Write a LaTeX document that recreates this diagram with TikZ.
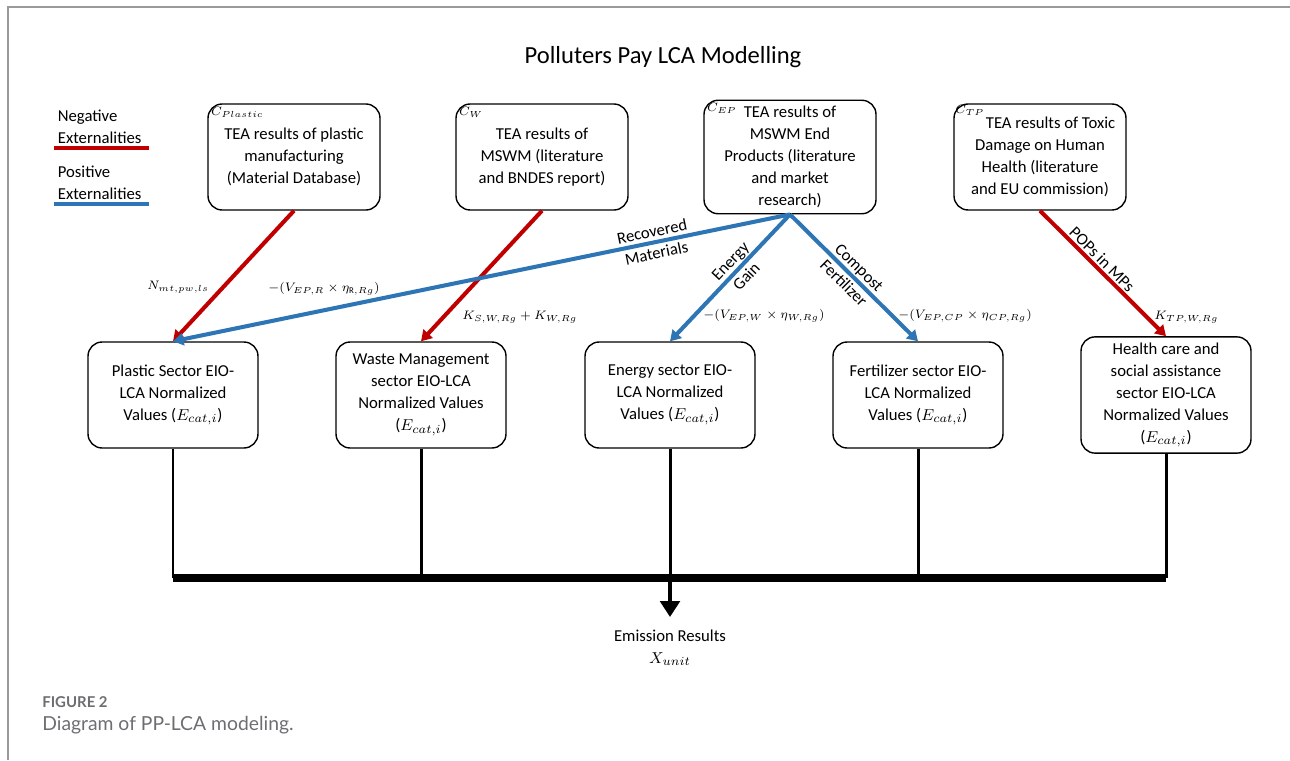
\documentclass[tikz,border=0pt]{standalone}
\usepackage{fontspec}
\setmainfont{Carlito}
\newfontfamily\capfont{Lato}
\usetikzlibrary{arrows.meta}
\definecolor{negred}{HTML}{C00000}
\definecolor{posblue}{HTML}{2E75B6}
\definecolor{capgray}{HTML}{6D6E71}
\tikzset{>={Triangle[length=6pt,width=7pt]}}
\tikzset{
  box/.style={draw, line width=0.8pt, rounded corners=8pt, align=center,
    minimum width=3.44cm, minimum height=2.12cm,
    font=\fontsize{9.5}{12.5}\selectfont},
  eio/.style={box, minimum width=3.4cm},
  clbl/.style={anchor=north west, inner sep=2pt, font=\scriptsize},
  lbl/.style={align=center, inner sep=1pt, font=\fontsize{9.5}{12.5}\selectfont},
  mlbl/.style={anchor=west, inner sep=0pt, font=\scriptsize},
  negarrow/.style={draw=negred, line width=2.3pt, ->},
  posarrow/.style={draw=posblue, line width=2.3pt, ->},
  feed/.style={line width=1.7pt}
}

\begin{document}
\begin{tikzpicture}[x=0.02cm, y=-0.02cm]
  \useasboundingbox (0,0) rectangle (1290,760);
  \draw[capgray!70, line width=1.2pt] (8,760) -- (8,7) -- (1290,7);

  \node[font=\fontsize{14}{17}\selectfont] (title) at (663,57)
    {Polluters Pay LCA Modelling};

  % legend
  \node[lbl, anchor=west, align=left, inner sep=2pt] (legneg) at (54,127)
    {Negative\\Externalities};
  \draw[negred, line width=2.3pt] (legneg.south west) -- ++(95,0);
  \node[lbl, anchor=west, align=left, inner sep=2pt] (legpos) at (54,183)
    {Positive\\Externalities};
  \draw[posblue, line width=2.3pt] (legpos.south west) -- ++(95,0);

  % TEA boxes
  \node[box] (teaplastic) at (294,157)
    {TEA results of plastic\\manufacturing\\(Material Database)};
  \node[box] (teawaste) at (542,157)
    {TEA results of\\MSWM (literature\\and BNDES report)};
  \node[box] (teaend) at (790,157)
    {TEA results of\\MSWM End\\Products (literature\\and market\\research)};
  \node[box] (teatoxic) at (1040,157)
    {\hspace{12pt}TEA results of Toxic\\Damage on Human\\Health (literature\\and EU commission)};
  \node[clbl] (cplastic) at (teaplastic.north west) {$C_{Plastic}$};
  \node[clbl] (cwaste) at (teawaste.north west) {$C_{W}$};
  \node[clbl] (cend) at (teaend.north west) {$C_{EP}$};
  \node[clbl, inner sep=1pt] (ctoxic) at (teatoxic.north west) {$C_{TP}$};

  % EIO-LCA boxes
  \node[eio] (eioplastic) at (173,395)
    {Plastic Sector EIO-\\LCA Normalized\\Values ($E_{cat,i}$)};
  \node[eio] (eiowaste) at (421,395)
    {Waste Management\\sector EIO-LCA\\Normalized Values\\($E_{cat,i}$)};
  \node[eio] (eioenergy) at (670,395)
    {Energy sector EIO-\\LCA Normalized\\Values ($E_{cat,i}$)};
  \node[eio] (eiofert) at (918,395)
    {Fertilizer sector EIO-\\LCA Normalized\\Values ($E_{cat,i}$)};
  \node[eio] (eiohealth) at (1166,395)
    {Health care and\\social assistance\\sector EIO-LCA\\Normalized Values\\($E_{cat,i}$)};

  % externalities
  \draw[negarrow] (teaplastic.south) -- (eioplastic.north);
  \draw[negarrow] (teawaste.south) -- (eiowaste.north);
  \draw[posarrow] (teaend.south) -- node[lbl, sloped, pos=0.22] {Recovered\\Materials}
    (eioplastic.north);
  \draw[posarrow] (teaend.south) -- node[lbl, sloped, pos=0.43] {Energy\\Gain}
    (eioenergy.north);
  \draw[posarrow] (teaend.south) -- node[lbl, sloped, pos=0.48] {Compost\\Fertilizer}
    (eiofert.north);
  \draw[negarrow] (teatoxic.south) -- node[lbl, sloped, above, pos=0.44] {POPs in MPs}
    (eiohealth.north);

  \node[mlbl] (nmt) at (147,287) {$N_{mt,pw,ls}$};
  \node[mlbl] (vepr) at (268,289) {$-(V_{EP,R}\times\eta_{\mathrm{R},Rg})$};
  \node[mlbl] (ksw) at (462,317) {$K_{S,W,Rg}+K_{W,Rg}$};
  \node[mlbl] (vepw) at (703,316) {$-(V_{EP,W}\times\eta_{W,Rg})$};
  \node[mlbl] (vepcp) at (898,316) {$-(V_{EP,CP}\times\eta_{CP,Rg})$};
  \node[mlbl] (ktp) at (1154,317) {$K_{TP,W,Rg}$};

  % summation
  \coordinate (bus) at (670,578);
  \foreach \n in {eioplastic,eiowaste,eioenergy,eiofert,eiohealth}
    \draw[feed] (\n.south) -- (\n.south |- bus);
  \draw[line width=4pt] (eioplastic.south |- bus) -- (eiohealth.south |- bus);
  \node[lbl, anchor=north, inner ysep=7pt] (result) at (670,617)
    {Emission Results\\$X_{unit}$};
  \draw[line width=2.3pt, -{Triangle[length=9pt,width=11pt]}] (bus) -- (result.north);

  % caption
  \node[anchor=west, inner sep=0pt, text=capgray,
    font=\capfont\bfseries\fontsize{8.5}{10}\selectfont] (figno) at (42,702) {FIGURE 2};
  \node[anchor=west, inner sep=0pt, text=capgray,
    font=\capfont\fontsize{11}{13}\selectfont] (figcap) at (42,725)
    {Diagram of PP-LCA modeling.};
\end{tikzpicture}
\end{document}
